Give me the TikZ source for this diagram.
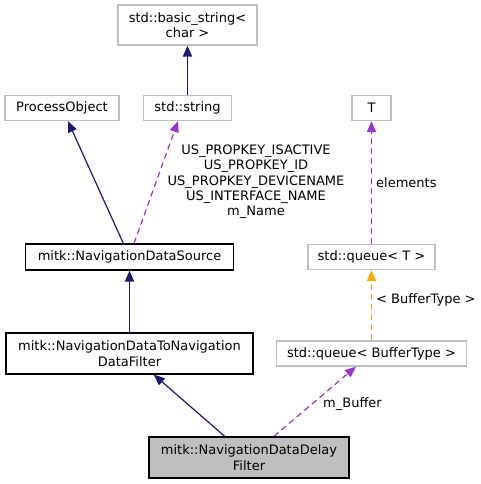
\documentclass[tikz,border=0pt]{standalone}
\usepackage{fontspec}
\setmainfont{DejaVu Sans}
\usetikzlibrary{arrows.meta}
\definecolor{edgeblue}{HTML}{191970}
\definecolor{edgepurple}{HTML}{9A32CD}
\definecolor{edgeorange}{HTML}{FFA500}
\definecolor{greyborder}{HTML}{BFBFBF}
\begin{document}
\begin{tikzpicture}[x=1pt,y=-1pt,
  font=\fontsize{13}{15.3}\selectfont,
  cls/.style={draw=greyborder, line width=1.2pt, fill=white, rectangle, inner sep=0pt, align=center},
  mainbox/.style={draw=black, line width=1.2pt, fill=white, rectangle, inner sep=0pt, align=center},
  cur/.style={draw=black, line width=1.2pt, fill=greyborder, rectangle, inner sep=0pt, align=center},
  inh/.style={draw=edgeblue, line width=1.2pt, -{Triangle[length=11pt,width=9pt]}},
  use/.style={draw=edgepurple, line width=1.2pt, dash pattern=on 6pt off 4pt, -{Triangle[length=11pt,width=9pt]}},
  tmpl/.style={draw=edgeorange, line width=1.2pt, dash pattern=on 6pt off 4pt, -{Triangle[length=11pt,width=9pt]}},
  vert/.style={line width=1.9pt},
  lbl/.style={align=center, inner sep=0pt}
]
\useasboundingbox (0,0) rectangle (481,484);
\node[cls, minimum width=139pt, minimum height=40pt] (bs) at (187.5,25) {std::basic\_string<\\char >};
\node[cls, minimum width=88pt, minimum height=25pt] (ss) at (187.5,108) {std::string};
\node[cls, minimum width=114pt, minimum height=25pt] (po) at (62,108) {ProcessObject};
\node[cls, minimum width=39pt, minimum height=25pt] (t) at (371.5,108) {T};
\node[mainbox, minimum width=208pt, minimum height=26pt] (nds) at (129.5,257) {mitk::NavigationDataSource};
\node[cls, minimum width=127pt, minimum height=25pt] (qt) at (371.5,257) {std::queue< T >};
\node[mainbox, minimum width=247pt, minimum height=41pt] (nf) at (129.5,353.5) {mitk::NavigationDataToNavigation\\DataFilter};
\node[cls, minimum width=190pt, minimum height=25pt] (qb) at (371.5,353.5) {std::queue< BufferType >};
\node[cur, minimum width=200pt, minimum height=41pt] (df) at (249,457.5) {mitk::NavigationDataDelay\\Filter};

\draw[inh, vert] (ss) -- (bs);
\draw[inh] (nds) -- (po);
\draw[use] (nds.north -| 134,0) -- (ss.south -| 178,0);
\draw[inh, vert] (nf) -- (nds);
\draw[use, vert] (qt) -- (t);
\draw[tmpl, vert] (qb) -- (qt);
\draw[inh] (df) -- (nf);
\draw[use] (df) -- (qb);

\node[lbl] (l1) at (256,182) {US\_PROPKEY\_ISACTIVE\\US\_PROPKEY\_ID\\US\_PROPKEY\_DEVICENAME\\US\_INTERFACE\_NAME\\m\_Name};
\node[lbl, anchor=west] (l2) at (376,183) {elements};
\node[lbl, anchor=west] (l3) at (376,300) {< BufferType >};
\node[lbl, anchor=west] (l4) at (323,404) {m\_Buffer};
\end{tikzpicture}
\end{document}
